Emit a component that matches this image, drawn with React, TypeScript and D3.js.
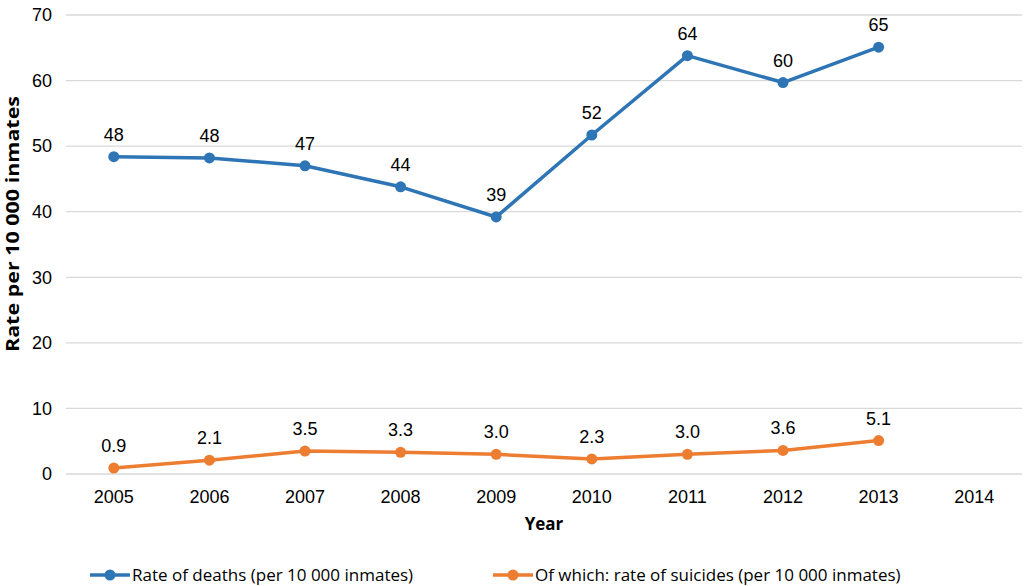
import React from "react";
import * as d3 from "d3";

const years = ["2005", "2006", "2007", "2008", "2009", "2010", "2011", "2012", "2013", "2014"];
const deaths = [48.4, 48.2, 47.0, 43.8, 39.2, 51.7, 63.8, 59.7, 65.1];
const deathLabels = ["48", "48", "47", "44", "39", "52", "64", "60", "65"];
const suicides = [0.9, 2.1, 3.5, 3.3, 3.0, 2.3, 3.0, 3.6, 5.1];
const suicideLabels = ["0.9", "2.1", "3.5", "3.3", "3.0", "2.3", "3.0", "3.6", "5.1"];
const yTicks = [0, 10, 20, 30, 40, 50, 60, 70];
const seriesNames = ["Rate of deaths (per 10 000 inmates)", "Of which: rate of suicides (per 10 000 inmates)"];
const colors = ["#2E75B6", "#ED7D31"];

const W = 1025, H = 586;
const left = 66, right = 1022, top = 15, bottom = 474;

export default function App() {
  const x = d3.scalePoint<string>().domain(years).range([left, right]).padding(0.5);
  const y = d3.scaleLinear().domain([0, 70]).range([bottom, top]);
  const line = d3.line<number>().x((_, i) => x(years[i])!).y((d) => y(d));
  const series = [
    { vals: deaths, labels: deathLabels },
    { vals: suicides, labels: suicideLabels },
  ];
  const numFont = "'Liberation Sans', Arial, sans-serif";
  const txtFont = "'Open Sans', 'Noto Sans', sans-serif";
  return (
    <svg width={W} height={H} style={{ position: "absolute", left: 0, top: 0, background: "#fff" }}>
      {yTicks.map((t) => (
        <g key={t}>
          <line x1={left} x2={right} y1={y(t)} y2={y(t)} stroke="#d9d9d9" strokeWidth={1.3} />
          <text x={52} y={y(t)} dy="0.35em" textAnchor="end" fontFamily={numFont} fontSize={18} fill="#000">
            {t}
          </text>
        </g>
      ))}
      {years.map((yr) => (
        <text key={yr} x={x(yr)} y={503} textAnchor="middle" fontFamily={numFont} fontSize={18} fill="#000">
          {yr}
        </text>
      ))}
      <text x={544} y={530} textAnchor="middle" fontFamily={txtFont} fontWeight="bold" fontSize={17} fill="#000">
        Year
      </text>
      <text
        transform={`translate(19, 224) rotate(-90)`}
        textAnchor="middle"
        fontFamily={txtFont}
        fontWeight="bold"
        fontSize={17}
        textLength={256}
        lengthAdjust="spacingAndGlyphs"
        fill="#000"
      >
        Rate per 10 000 inmates
      </text>
      {series.map((s, si) => (
        <g key={si}>
          <path d={line(s.vals)!} fill="none" stroke={colors[si]} strokeWidth={3.5} strokeLinejoin="round" />
          {s.vals.map((v, i) => (
            <circle key={i} cx={x(years[i])} cy={y(v)} r={5.5} fill={colors[si]} />
          ))}
          {s.vals.map((v, i) => (
            <text key={"l" + i} x={x(years[i])} y={y(v) - 16} textAnchor="middle" fontFamily={numFont} fontSize={18} fill="#000">
              {s.labels[i]}
            </text>
          ))}
        </g>
      ))}
      {seriesNames.map((n, i) => {
        const lx = i === 0 ? 90 : 493;
        return (
          <g key={n}>
            <line x1={lx} x2={lx + 40} y1={575} y2={575} stroke={colors[i]} strokeWidth={3.5} />
            <circle cx={lx + 20} cy={575} r={5.5} fill={colors[i]} />
            <text x={lx + 42} y={575} dy="0.35em" fontFamily={txtFont} fontSize={17} fill="#000">
              {n}
            </text>
          </g>
        );
      })}
    </svg>
  );
}
